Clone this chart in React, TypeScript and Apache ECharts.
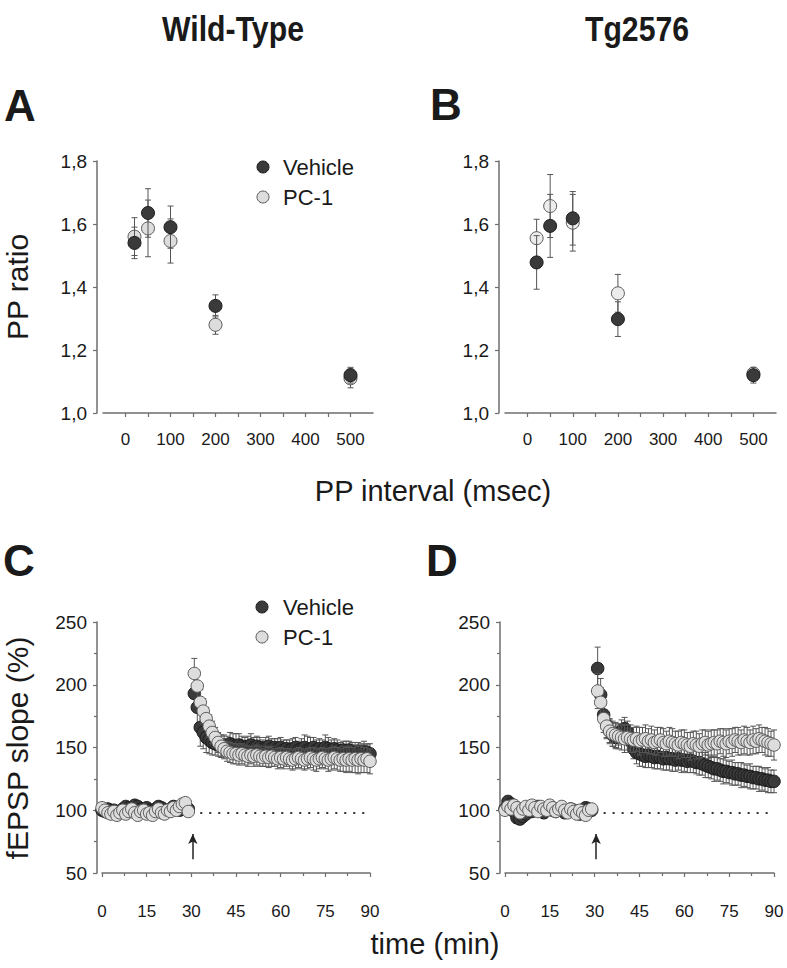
import React, { useEffect, useRef } from "react";
import * as echarts from "echarts";

// ---------- Panels A & B : paired-pulse ratio ----------
const ppInterval = [20, 50, 100, 200, 500];
const ppTickLabels = [0, 100, 200, 300, 400, 500];
const ppTicks = [0, 50, 100, 150, 200, 250, 300, 350, 400, 450, 500];

const wtPPVehicle = [1.54, 1.635, 1.59, 1.34, 1.12];
const wtPPVehicleErr = [0.05, 0.077, 0.067, 0.035, 0.025];
const wtPPPc1 = [1.56, 1.586, 1.546, 1.28, 1.11];
const wtPPPc1Err = [0.06, 0.09, 0.07, 0.03, 0.03];

const tgPPVehicle = [1.478, 1.594, 1.618, 1.298, 1.12];
const tgPPVehicleErr = [0.085, 0.1, 0.085, 0.055, 0.025];
const tgPPPc1 = [1.555, 1.657, 1.604, 1.38, 1.125];
const tgPPPc1Err = [0.06, 0.1, 0.09, 0.06, 0.015];

// ---------- Panels C & D : fEPSP slope over time ----------
const timeMin = [
  0, 1, 2, 3, 4, 5, 6, 7, 8, 9, 10, 11, 12, 13, 14, 15, 16, 17, 18, 19, 20, 21, 22, 23, 24, 25, 26, 27, 28, 29,
  31, 32, 33, 34, 35, 36, 37, 38, 39, 40, 41, 42, 43, 44, 45, 46, 47, 48, 49, 50,
  51, 52, 53, 54, 55, 56, 57, 58, 59, 60, 61, 62, 63, 64, 65, 66, 67, 68, 69, 70,
  71, 72, 73, 74, 75, 76, 77, 78, 79, 80, 81, 82, 83, 84, 85, 86, 87, 88, 89, 90,
];

const wtVehicle = [
  100, 99, 101, 98, 100, 97, 99, 101, 103, 102, 100, 104, 103, 101, 99, 102, 100, 98, 101, 103,
  102, 100, 99, 101, 103, 102, 100, 101, 103, 101,
  193, 182, 166, 162, 158, 156, 154, 153, 152, 151, 152, 151, 153, 152, 151, 152, 151, 150, 151, 152,
  150, 151, 150, 149, 150, 151, 149, 150, 149, 150, 148, 149, 148, 149, 150, 148, 149, 150, 148, 149,
  150, 148, 149, 148, 150, 149, 148, 149, 148, 147, 148, 147, 148, 147, 146, 147, 146, 147, 146, 145,
];
const wtVehicleErr = [
  3, 3, 2, 3, 3, 2, 3, 3, 2, 3, 3, 3, 2, 3, 3, 2, 3, 3, 2, 3, 3, 3, 2, 3, 3, 2, 3, 3, 3, 4,
  12, 14, 15, 13, 12, 11, 10, 9, 9, 9, 8, 8, 9, 9, 10, 9, 8, 8, 8, 9,
  8, 8, 8, 7, 8, 8, 8, 7, 8, 8, 8, 7, 8, 8, 8, 7, 8, 10, 11, 9,
  8, 8, 8, 8, 10, 9, 8, 8, 8, 7, 7, 8, 7, 7, 8, 7, 7, 8, 7, 8,
];
const wtPc1 = [
  102, 100, 98, 97, 99, 96, 98, 100, 97, 99, 101, 98, 96, 99, 100, 97, 98, 96, 99, 101,
  98, 97, 100, 99, 102, 100, 103, 105, 106, 99,
  209, 199, 186, 179, 173, 167, 162, 158, 154, 151, 149, 147, 146, 145, 145, 144, 145, 144, 143, 144,
  143, 144, 143, 142, 143, 142, 143, 142, 141, 142, 141, 142, 141, 140, 141, 142, 141, 140, 141, 142,
  141, 140, 141, 142, 141, 140, 141, 142, 141, 140, 141, 140, 141, 140, 141, 140, 141, 140, 141, 139,
];
const wtPc1Err = [
  3, 3, 3, 2, 3, 3, 2, 3, 3, 3, 2, 3, 3, 2, 3, 3, 3, 2, 3, 3, 3, 2, 3, 3, 3, 3, 3, 3, 4, 3,
  12, 11, 10, 10, 9, 9, 9, 8, 8, 8, 8, 8, 8, 8, 8, 8, 8, 8, 8, 7,
  8, 8, 8, 7, 8, 8, 8, 7, 8, 8, 8, 7, 8, 8, 8, 8, 8, 8, 8, 8,
  9, 9, 8, 8, 8, 9, 9, 9, 9, 9, 10, 10, 10, 10, 11, 11, 11, 10, 11, 10,
];

const tgVehicle = [
  101, 107, 105, 99, 94, 93, 95, 97, 100, 99, 101, 103, 100, 98, 101, 102, 100, 99, 101, 100,
  98, 99, 101, 100, 99, 97, 100, 102, 101, 100,
  213, 192, 176, 168, 163, 160, 158, 160, 163, 165, 162, 155, 149, 146, 145, 144, 143, 144, 143, 142,
  143, 142, 141, 142, 141, 141, 140, 141, 140, 140, 139, 140, 139, 138, 138, 137, 136, 135, 134, 133,
  133, 132, 131, 131, 130, 130, 129, 129, 128, 128, 127, 127, 126, 126, 125, 125, 124, 124, 123, 123,
];
const tgVehicleErr = [
  3, 4, 4, 3, 4, 3, 3, 2, 3, 3, 3, 4, 3, 3, 2, 3, 3, 3, 2, 3, 3, 3, 2, 3, 3, 3, 2, 3, 3, 3,
  17, 13, 11, 10, 9, 9, 9, 8, 9, 9, 9, 9, 8, 9, 10, 9, 9, 10, 9, 9,
  10, 9, 9, 10, 9, 10, 9, 9, 10, 9, 9, 10, 9, 9, 10, 9, 10, 9, 9, 10,
  9, 9, 10, 9, 9, 10, 9, 9, 10, 9, 9, 10, 9, 9, 10, 9, 9, 10, 9, 9,
];
const tgPc1 = [
  100, 103, 101, 104, 102, 98, 101, 103, 100, 104, 102, 99, 103, 101, 100, 104, 102, 99, 101, 103,
  100, 98, 101, 99, 97, 100, 98, 96, 100, 101,
  195, 186, 173, 167, 163, 161, 160, 159, 158, 157, 158, 157, 156, 157, 155, 156, 157, 155, 156, 154,
  155, 156, 154, 153, 155, 154, 153, 152, 154, 153, 152, 151, 153, 152, 151, 153, 154, 152, 153, 154,
  153, 155, 154, 153, 155, 154, 156, 155, 154, 156, 155, 154, 156, 155, 157, 156, 155, 154, 153, 152,
];
const tgPc1Err = [
  3, 3, 2, 3, 3, 3, 2, 3, 3, 3, 2, 3, 3, 3, 2, 3, 3, 3, 3, 2, 3, 3, 3, 2, 3, 3, 3, 3, 3, 3,
  14, 12, 11, 10, 10, 10, 10, 10, 10, 11, 10, 11, 10, 10, 11, 10, 11, 10, 11, 10,
  11, 10, 11, 10, 11, 11, 10, 11, 10, 11, 10, 11, 10, 11, 10, 11, 10, 11, 11, 10,
  11, 10, 11, 11, 10, 11, 10, 11, 10, 11, 11, 10, 11, 10, 11, 10, 11, 11, 10, 12,
];

const baselineLevel = 98;
const baselineLineFrom = 33;
const tetanusTime = 30.5;
const arrowFrom = 61;
const arrowTo = 81;

const FONT = "'Liberation Sans', Arial, Helvetica, sans-serif";
const TEXT = "#1a1a1a";
const AXIS = "#6e6e6e";
const VEH_FILL = "#3a3a3a";
const VEH_BORDER = "#1c1c1c";
const PC_FILL = "#dddddd";
const PC_BORDER = "#5a5a5a";
const ERR = "#555555";

function errSeries(idx: number, xs: number[], ys: number[], es: number[], z: number) {
  return {
    type: "custom",
    xAxisIndex: idx,
    yAxisIndex: idx,
    z,
    silent: true,
    clip: false,
    encode: { x: 0, y: 1 },
    data: xs.map((x, i) => [x, ys[i], es[i]]),
    renderItem: (_p: any, api: any) => {
      const x = api.value(0);
      const y = api.value(1);
      const e = api.value(2);
      const t = api.coord([x, y + e]);
      const b = api.coord([x, y - e]);
      const w = 3;
      const st = { stroke: ERR, lineWidth: 1 };
      return {
        type: "group",
        children: [
          { type: "line", shape: { x1: t[0], y1: t[1], x2: b[0], y2: b[1] }, style: st },
          { type: "line", shape: { x1: t[0] - w, y1: t[1], x2: t[0] + w, y2: t[1] }, style: st },
          { type: "line", shape: { x1: b[0] - w, y1: b[1], x2: b[0] + w, y2: b[1] }, style: st },
        ],
      };
    },
  };
}

function dotSeries(name: string, idx: number, xs: number[], ys: number[], fill: string, border: string, size: number, z: number, extra: any = {}) {
  return {
    type: "scatter",
    name,
    xAxisIndex: idx,
    yAxisIndex: idx,
    z,
    symbol: "circle",
    symbolSize: size,
    clip: false,
    emphasis: { disabled: true },
    itemStyle: { color: fill, borderColor: border, borderWidth: 1, opacity: 1 },
    data: xs.map((x, i) => [x, ys[i]]),
    ...extra,
  };
}

const axisLine = { show: true, onZero: false, lineStyle: { color: AXIS, width: 1.5 } };
const axisTick = { show: true, length: 4, lineStyle: { color: AXIS, width: 1.2 } };

function ppXAxis(idx: number) {
  return {
    type: "value",
    gridIndex: idx,
    min: -50,
    max: 550,
    axisLine,
    axisTick: { ...axisTick, customValues: ppTicks },
    axisLabel: { customValues: ppTickLabels, fontSize: 17, color: TEXT, fontFamily: FONT, margin: 18 },
    splitLine: { show: false },
  };
}
function ppYAxis(idx: number) {
  return {
    type: "value",
    gridIndex: idx,
    min: 1.0,
    max: 1.8,
    interval: 0.2,
    offset: 6,
    axisLine,
    axisTick,
    axisLabel: {
      fontSize: 19,
      color: TEXT,
      fontFamily: FONT,
      margin: 10,
      formatter: (v: number) => v.toFixed(1).replace(".", ","),
    },
    splitLine: { show: false },
  };
}
function tXAxis(idx: number) {
  return {
    type: "value",
    gridIndex: idx,
    min: 0,
    max: 90,
    interval: 15,
    axisLine,
    axisTick,
    minorTick: { show: true, splitNumber: 2, length: 3, lineStyle: { color: AXIS, width: 1.2 } },
    axisLabel: { fontSize: 17, color: TEXT, fontFamily: FONT, margin: 30 },
    splitLine: { show: false },
    minorSplitLine: { show: false },
  };
}
function tYAxis(idx: number) {
  return {
    type: "value",
    gridIndex: idx,
    min: 50,
    max: 250,
    interval: 50,
    offset: 5,
    axisLine,
    axisTick,
    minorTick: { show: true, splitNumber: 2, length: 3, lineStyle: { color: AXIS, width: 1.2 } },
    axisLabel: { fontSize: 19, color: TEXT, fontFamily: FONT, margin: 10 },
    splitLine: { show: false },
    minorSplitLine: { show: false },
  };
}

function txt(text: string, x: number, y: number, size: number, opts: any = {}) {
  return {
    type: "text",
    x,
    y,
    rotation: opts.rotation || 0,
    scaleX: opts.scaleX || 1,
    silent: true,
    style: {
      text,
      fontSize: size,
      fontWeight: opts.bold ? "bold" : "normal",
      fontFamily: FONT,
      fill: TEXT,
      align: opts.align || "center",
      verticalAlign: "middle",
    },
  };
}
function legendDot(x: number, y: number, fill: string, border: string) {
  return { type: "circle", silent: true, shape: { cx: x, cy: y, r: 6 }, style: { fill, stroke: border, lineWidth: 1 } };
}

export default function App() {
  const ref = useRef<HTMLDivElement>(null);
  useEffect(() => {
    document.body.style.margin = "0";
    if (!ref.current) return;
    const chart = echarts.init(ref.current, null, { renderer: "svg" });
    const option: any = {
      animation: false,
      backgroundColor: "#ffffff",
      grid: [
        { left: 103, top: 161, width: 270, height: 252, outerBoundsMode: "none" },
        { left: 505, top: 161, width: 271, height: 252, outerBoundsMode: "none" },
        { left: 102, top: 622, width: 268, height: 251, outerBoundsMode: "none" },
        { left: 505, top: 622, width: 269, height: 251, outerBoundsMode: "none" },
      ],
      xAxis: [ppXAxis(0), ppXAxis(1), tXAxis(2), tXAxis(3)],
      yAxis: [ppYAxis(0), ppYAxis(1), tYAxis(2), tYAxis(3)],
      series: [
        // A
        errSeries(0, ppInterval, wtPPPc1, wtPPPc1Err, 2),
        dotSeries("PC-1", 0, ppInterval, wtPPPc1, PC_FILL, PC_BORDER, 13, 3),
        errSeries(0, ppInterval, wtPPVehicle, wtPPVehicleErr, 4),
        dotSeries("Vehicle", 0, ppInterval, wtPPVehicle, VEH_FILL, VEH_BORDER, 13, 5),
        // B
        errSeries(1, ppInterval, tgPPPc1, tgPPPc1Err, 2),
        dotSeries("PC-1", 1, ppInterval, tgPPPc1, "#ececec", PC_BORDER, 13, 3),
        errSeries(1, ppInterval, tgPPVehicle, tgPPVehicleErr, 4),
        dotSeries("Vehicle", 1, ppInterval, tgPPVehicle, VEH_FILL, VEH_BORDER, 13, 5),
        // C
        errSeries(2, timeMin, wtVehicle, wtVehicleErr, 2),
        dotSeries("Vehicle", 2, timeMin, wtVehicle, VEH_FILL, VEH_BORDER, 12.5, 3, {
          markLine: {
            silent: true,
            symbol: "none",
            label: { show: false },
            lineStyle: { type: [2, 7], width: 2, color: "#333" },
            data: [[{ coord: [baselineLineFrom, baselineLevel] }, { coord: [90, baselineLevel] }]],
          },
        }),
        errSeries(2, timeMin, wtPc1, wtPc1Err, 4),
        dotSeries("PC-1", 2, timeMin, wtPc1, PC_FILL, PC_BORDER, 12.5, 5, {
          markLine: {
            silent: true,
            symbol: ["none", "arrow"],
            symbolSize: [7, 10],
            label: { show: false },
            lineStyle: { type: "solid", width: 1.5, color: "#222" },
            data: [[{ coord: [tetanusTime, arrowFrom] }, { coord: [tetanusTime, arrowTo] }]],
          },
        }),
        // D
        errSeries(3, timeMin, tgVehicle, tgVehicleErr, 2),
        dotSeries("Vehicle", 3, timeMin, tgVehicle, VEH_FILL, VEH_BORDER, 12.5, 3, {
          markLine: {
            silent: true,
            symbol: "none",
            label: { show: false },
            lineStyle: { type: [2, 7], width: 2, color: "#333" },
            data: [[{ coord: [baselineLineFrom, baselineLevel] }, { coord: [90, baselineLevel] }]],
          },
        }),
        errSeries(3, timeMin, tgPc1, tgPc1Err, 4),
        dotSeries("PC-1", 3, timeMin, tgPc1, PC_FILL, PC_BORDER, 12.5, 5, {
          markLine: {
            silent: true,
            symbol: ["none", "arrow"],
            symbolSize: [7, 10],
            label: { show: false },
            lineStyle: { type: "solid", width: 1.5, color: "#222" },
            data: [[{ coord: [tetanusTime, arrowFrom] }, { coord: [tetanusTime, arrowTo] }]],
          },
        }),
      ],
      graphic: [
        txt("Wild-Type", 233, 29, 36, { bold: true, scaleX: 0.84 }),
        txt("Tg2576", 637, 29, 36, { bold: true, scaleX: 0.84 }),
        txt("A", 4, 105, 44, { bold: true, align: "left" }),
        txt("B", 430, 104, 44, { bold: true, align: "left" }),
        txt("C", 3, 560, 44, { bold: true, align: "left" }),
        txt("D", 426, 560, 44, { bold: true, align: "left" }),
        txt("PP ratio", 17, 287, 30, { rotation: Math.PI / 2 }),
        txt("fEPSP slope (%)", 17, 748, 30, { rotation: Math.PI / 2 }),
        txt("PP interval (msec)", 433, 491, 29),
        txt("time (min)", 435, 944, 29),
        legendDot(263, 167, VEH_FILL, VEH_BORDER),
        txt("Vehicle", 283, 167, 22, { align: "left" }),
        legendDot(263, 197, PC_FILL, PC_BORDER),
        txt("PC-1", 283, 197, 22, { align: "left" }),
        legendDot(262, 607, VEH_FILL, VEH_BORDER),
        txt("Vehicle", 283, 607, 22, { align: "left" }),
        legendDot(262, 637, PC_FILL, PC_BORDER),
        txt("PC-1", 283, 637, 22, { align: "left" }),
      ],
    };
    chart.setOption(option);
    return () => chart.dispose();
  }, []);
  return <div ref={ref} style={{ position: "absolute", left: 0, top: 0, width: 787, height: 968 }} />;
}
